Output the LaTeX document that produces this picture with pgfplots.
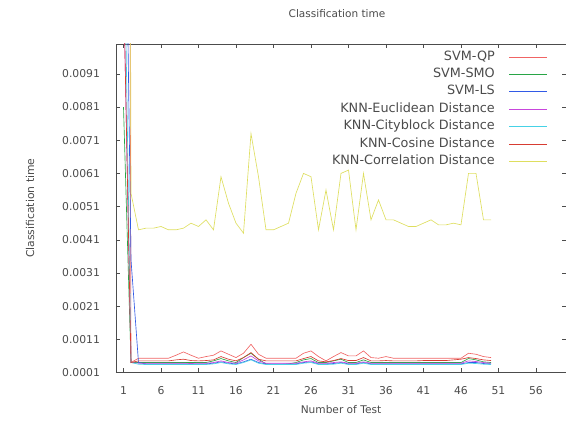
\documentclass[border=0pt]{standalone}
\usepackage{pgfplots}
\usepackage{pgfplotstable}
\pgfplotsset{compat=1.18}
\usepackage{fontspec}
\setmainfont{DejaVu Sans}
\definecolor{cqp}{RGB}{240,100,100}
\definecolor{csmo}{RGB}{40,165,70}
\definecolor{cls}{RGB}{50,90,230}
\definecolor{ceuc}{RGB}{200,70,220}
\definecolor{ccity}{RGB}{70,210,230}
\definecolor{ccos}{RGB}{215,60,50}
\definecolor{ccorr}{RGB}{222,222,95}
\definecolor{txt}{RGB}{75,75,75}
\pgfplotstableread{
x qp smo ls euc city cos corr
1 0.09 0.0081 0.02 0.012 0.015 0.012 0.09
2 0.0004 0.0004 0.0035 0.0004 0.0004 0.0004 0.0055
3 0.00053 0.0004 0.0004 0.00038 0.00035 0.00045 0.0044
4 0.00053 0.0004 0.00036 0.00038 0.00034 0.00045 0.00445
5 0.00053 0.0004 0.00036 0.00038 0.00034 0.00045 0.00445
6 0.00053 0.0004 0.00036 0.00038 0.00034 0.00045 0.0045
7 0.00053 0.0004 0.00036 0.00038 0.00034 0.00045 0.0044
8 0.00062 0.0004 0.00036 0.00038 0.00034 0.00048 0.0044
9 0.00072 0.0004 0.00036 0.00038 0.00034 0.0005 0.00445
10 0.00062 0.0004 0.00035 0.00037 0.00034 0.00046 0.0046
11 0.00053 0.0004 0.00036 0.00038 0.00034 0.00045 0.0045
12 0.00058 0.0004 0.00036 0.00038 0.00034 0.00046 0.0047
13 0.00062 0.00045 0.00038 0.0004 0.00036 0.00048 0.0044
14 0.00075 0.00052 0.00042 0.00045 0.0004 0.00058 0.0060
15 0.00065 0.00045 0.00038 0.0004 0.00036 0.0005 0.0052
16 0.00055 0.0004 0.00036 0.00038 0.00034 0.00045 0.0046
17 0.00068 0.00055 0.00042 0.00048 0.0004 0.00055 0.0043
18 0.00095 0.00068 0.0005 0.0006 0.00048 0.0007 0.0073
19 0.00065 0.0005 0.0004 0.00045 0.00038 0.0005 0.0060
20 0.00053 0.00036 0.00036 0.00038 0.00034 0.00045 0.0044
21 0.00053 0.00034 0.00036 0.00038 0.00034 0.00045 0.0044
22 0.00053 0.00034 0.00036 0.00038 0.00034 0.00045 0.0045
23 0.00053 0.00036 0.00036 0.00038 0.00034 0.00045 0.0046
24 0.00053 0.0004 0.00036 0.00038 0.00034 0.00045 0.0055
25 0.00068 0.00048 0.0004 0.00042 0.00038 0.00052 0.0061
26 0.00075 0.00052 0.00042 0.00045 0.0004 0.00058 0.0060
27 0.00058 0.0004 0.00036 0.00038 0.00034 0.00045 0.0044
28 0.00045 0.0004 0.00036 0.00038 0.00034 0.00042 0.0056
29 0.00058 0.00045 0.00037 0.0004 0.00035 0.00046 0.0044
30 0.0007 0.0005 0.0004 0.00042 0.00038 0.00052 0.0061
31 0.0006 0.0004 0.00036 0.00038 0.00034 0.00046 0.0062
32 0.0006 0.0004 0.00036 0.00038 0.00034 0.00046 0.0044
33 0.00075 0.00048 0.0004 0.00042 0.00038 0.00055 0.0061
34 0.00055 0.0004 0.00036 0.00038 0.00034 0.00045 0.0047
35 0.00053 0.0004 0.00036 0.00038 0.00034 0.00045 0.0053
36 0.00058 0.0004 0.00036 0.00038 0.00034 0.00046 0.0047
37 0.00053 0.0004 0.00036 0.00038 0.00034 0.00045 0.0047
38 0.00053 0.0004 0.00036 0.00038 0.00034 0.00045 0.0046
39 0.00053 0.0004 0.00036 0.00038 0.00034 0.00045 0.0045
40 0.00053 0.0004 0.00036 0.00038 0.00034 0.00045 0.0045
41 0.00053 0.0004 0.00036 0.00038 0.00034 0.00046 0.0046
42 0.00053 0.0004 0.00036 0.00038 0.00034 0.00046 0.0047
43 0.00053 0.0004 0.00036 0.00038 0.00034 0.00046 0.00455
44 0.00053 0.0004 0.00036 0.00038 0.00034 0.00046 0.00455
45 0.00053 0.0004 0.00036 0.00038 0.00034 0.00048 0.0046
46 0.00053 0.0004 0.00036 0.00038 0.00034 0.0005 0.00455
47 0.00068 0.00052 0.0004 0.00045 0.00038 0.00055 0.0061
48 0.00065 0.00048 0.0004 0.00043 0.00037 0.00052 0.0061
49 0.00058 0.00042 0.00037 0.0004 0.00035 0.00048 0.0047
50 0.00055 0.0004 0.00036 0.00038 0.00034 0.00046 0.0047
}\datatable
\begin{document}
\begin{tikzpicture}[x=1pt,y=1pt]
\begin{axis}[
  at={(116pt,52.5pt)}, anchor=south west,
  scale only axis, width=450pt, height=328.5pt,
  xmin=0, xmax=60, ymin=0.0001, ymax=0.01,
  xtick={1,6,...,56},
  ytick={0.0001,0.0011,0.0021,0.0031,0.0041,0.0051,0.0061,0.0071,0.0081,0.0091},
  yticklabels={0.0001,0.0011,0.0021,0.0031,0.0041,0.0051,0.0061,0.0071,0.0081,0.0091},
  scaled y ticks=false,
  /pgf/number format/assume math mode=true,
  tick align=inside, major tick length=4pt,
  tick style={black!70, line width=0.5pt},
  axis line style={black!70, line width=0.6pt},
  ticklabel style={font=\fontsize{10.8}{13}\selectfont, text=txt},
  xticklabel style={yshift=-10.5pt},
  yticklabel style={xshift=-12.5pt},
  title={Classification time},
  title style={at={(0.5,1)}, anchor=center, yshift=24pt, xshift=-4pt, font=\fontsize{10.5}{13}\selectfont, text=txt},
  xlabel={Number of Test},
  xlabel style={at={(axis description cs:0.5,0)}, anchor=center, yshift=-37.5pt, font=\fontsize{10.6}{13}\selectfont, text=txt},
  ylabel={Classification time},
  ylabel style={at={(axis description cs:-0.191,0.5)}, anchor=center, font=\fontsize{10.8}{13}\selectfont, text=txt},
  legend cell align=right,
  legend plot pos=right,
  legend style={at={(axis description cs:0.96,1)}, anchor=north east, yshift=-7pt,
    draw=none, fill=none, font=\fontsize{12.8}{14}\selectfont\color{txt},
    row sep=5.4pt, column sep=14pt, inner sep=0pt,
    nodes={inner sep=0pt, text height=9pt, text depth=3pt}},
  legend image code/.code={\draw[#1,line width=1pt] (0pt,0pt) -- (38pt,0pt);},
  every axis plot/.append style={line width=0.65pt},
]
\addplot[color=cqp] table[x=x,y=qp]{\datatable};
\addlegendentry{SVM-QP}
\addplot[color=csmo] table[x=x,y=smo]{\datatable};
\addlegendentry{SVM-SMO}
\addplot[color=cls] table[x=x,y=ls]{\datatable};
\addlegendentry{SVM-LS}
\addplot[color=ceuc] table[x=x,y=euc]{\datatable};
\addlegendentry{KNN-Euclidean Distance}
\addplot[color=ccity] table[x=x,y=city]{\datatable};
\addlegendentry{KNN-Cityblock Distance}
\addplot[color=ccos] table[x=x,y=cos]{\datatable};
\addlegendentry{KNN-Cosine Distance}
\addplot[color=ccorr] table[x=x,y=corr]{\datatable};
\addlegendentry{KNN-Correlation Distance}
\end{axis}
\pgfresetboundingbox
\useasboundingbox (0pt,0pt) rectangle (566pt,425pt);
\end{tikzpicture}
\end{document}
